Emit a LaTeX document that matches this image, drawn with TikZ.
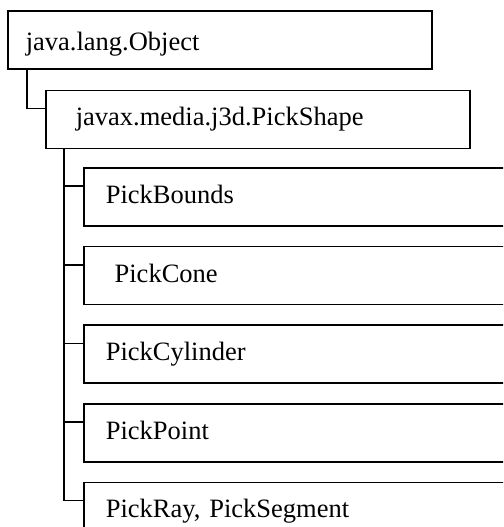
\documentclass[tikz,border=0pt]{standalone}
\usepackage{fontspec}
\setmainfont{Liberation Serif}
\newfontfamily\classfont{Liberation Serif}
\usetikzlibrary{positioning}
\tikzset{classbox/.style={
    % The shape:
    rectangle,
    % The size:
    minimum height=58pt,
    text width=388pt,
    text height=19pt,
    text depth=6pt,
    % The border:
    line width=1.6pt,
    draw=black,
    % Text:
    align=left,
    inner xsep=18pt,
    font=\classfont\fontsize{26.5}{30}\selectfont
    },
    subbox/.style={
    classbox,
    text width=400pt,
    inner xsep=22pt,
    },
    branch/.style={line width=1.6pt,draw=black},
}

\begin{document}
\begin{tikzpicture}[node distance = 19pt and 38pt]
    \clip (0,0) rectangle (503pt,-527pt);
    \node (object)  [classbox,text height=28pt,anchor=north west] at (7pt,-10pt) {java.lang.Object};
    \node (shape)   [classbox,inner xsep=30pt,text width=364pt,
                     below right=20pt and 38pt of object.south west] {javax.media.j3d.PickShape};

    \node (bounds)  [subbox,below right=18pt and 38pt of shape.south west] {PickBounds};
    \node (cone)    [subbox,below=of bounds] {\ PickCone};
    \node (cylinder)[subbox,below=of cone]   {PickCylinder};
    \node (point)   [subbox,below=of cylinder] {PickPoint};
    \node (ray)     [subbox,below=of point]  {PickRay, PickSegment};

    \path[branch] (object.south west) ++(20pt,0) |- ([yshift=-19pt]shape.north west);
    \foreach \sub in {bounds,cone,cylinder,point,ray}
      \path[branch] (shape.south west) ++(19pt,0) |- ([yshift=-19pt]\sub.north west);
\end{tikzpicture}
\end{document}
